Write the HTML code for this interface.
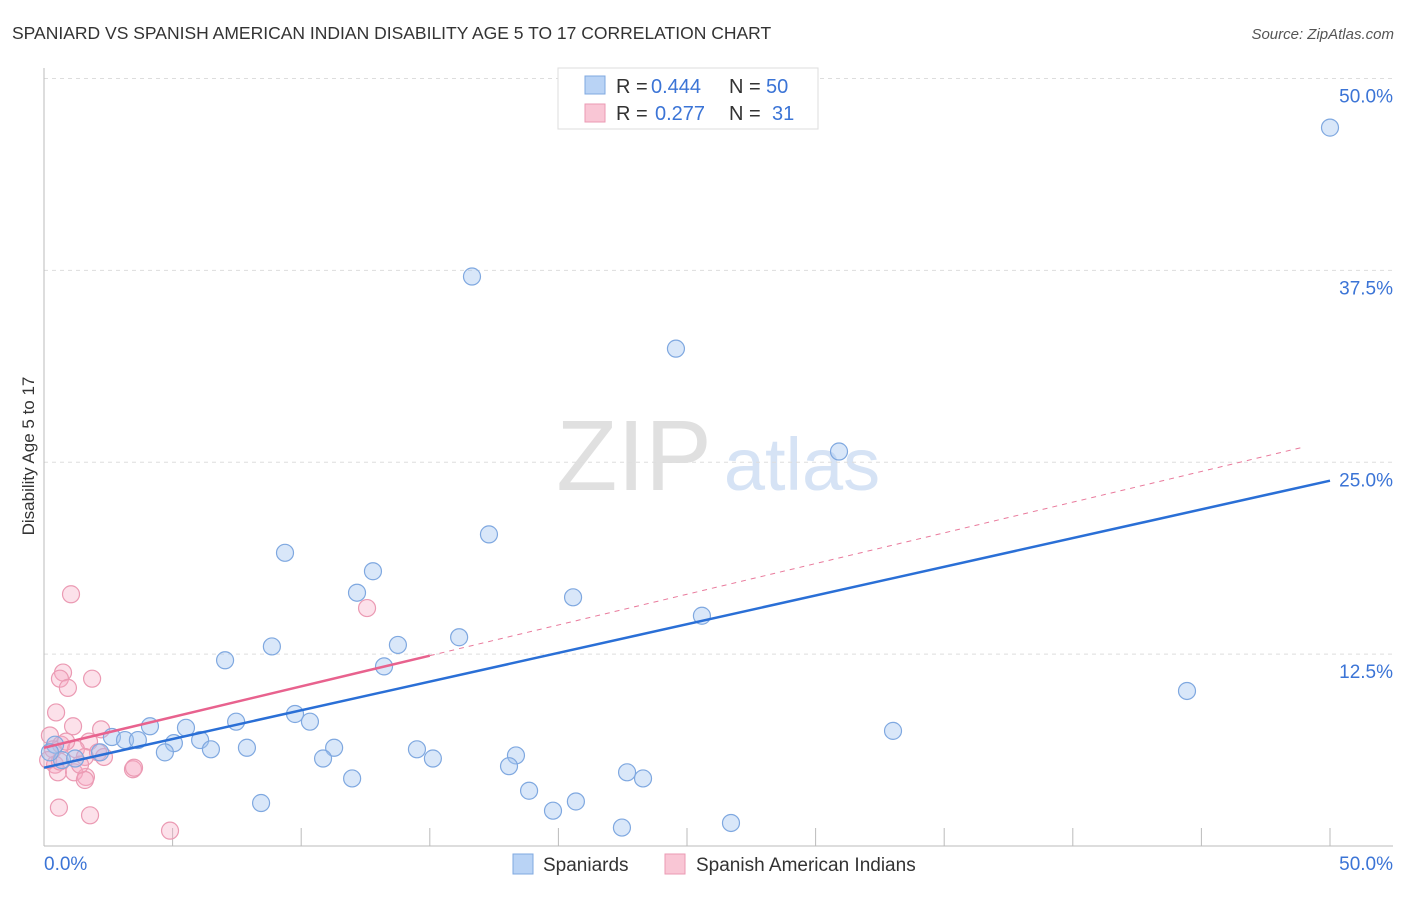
<!DOCTYPE html>
<html><head><meta charset="utf-8"><style>
body{margin:0;background:#fff;font-family:"Liberation Sans",sans-serif}
svg text{font-family:"Liberation Sans",sans-serif}
</style></head><body>
<svg id="c" width="1406" height="892">
<text x="12" y="39" font-size="17.5" fill="#333">SPANIARD VS SPANISH AMERICAN INDIAN DISABILITY AGE 5 TO 17 CORRELATION CHART</text>
<text x="1394" y="39" font-size="15" fill="#555" font-style="italic" text-anchor="end">Source: ZipAtlas.com</text>
<g>
<text x="634" y="490" font-size="100" fill="#e0e0e0" font-family="Liberation Serif" text-anchor="middle">ZIP</text>
<text x="802" y="490" font-size="74" fill="#d6e3f5" text-anchor="middle">atlas</text></g>
<g id="grid"></g><g id="axes"></g><g id="marks"></g>
<text transform="translate(34,456) rotate(-90)" font-size="17" fill="#333" text-anchor="middle">Disability Age 5 to 17</text>
<g>
<rect x="558" y="68" width="260" height="61" fill="#fff" stroke="#ddd"/>
<rect x="585" y="76" width="20" height="18" fill="#b9d3f5" stroke="#7fa8e0"/>
<rect x="585" y="104" width="20" height="18" fill="#f9c6d5" stroke="#eb9ab3"/>
<text x="616" y="93" font-size="20" fill="#333">R =</text>
<text x="651" y="93" font-size="20" fill="#3b74d6">0.444</text>
<text x="729" y="93" font-size="20" fill="#333">N =</text>
<text x="766" y="93" font-size="20" fill="#3b74d6">50</text>
<text x="616" y="120" font-size="20" fill="#333">R =</text>
<text x="655" y="120" font-size="20" fill="#3b74d6">0.277</text>
<text x="729" y="120" font-size="20" fill="#333">N =</text>
<text x="772" y="120" font-size="20" fill="#3b74d6">31</text>
</g>
<g>
<rect x="513" y="854" width="20" height="20" fill="#b9d3f5" stroke="#7fa8e0"/>
<text x="543" y="871" font-size="19" fill="#333">Spaniards</text>
<rect x="665" y="854" width="20" height="20" fill="#f9c6d5" stroke="#eb9ab3"/>
<text x="696" y="871" font-size="19" fill="#333">Spanish American Indians</text>
</g>
</svg>
<script>
const blueX=[50.0,16.64,24.57,30.91,17.30,9.37,12.79,12.17,20.57,25.58,16.14,13.76,8.86,7.04,13.22,44.44,9.76,4.12,7.47,10.34,5.52,33.01,2.64,3.15,3.65,6.07,5.05,2.18,7.89,6.49,11.28,14.50,4.70,10.85,15.12,18.35,18.08,22.67,23.29,11.98,18.86,20.68,8.44,19.79,22.47,26.71,0.43,0.70,1.21,0.23];
const blueY=[46.8,37.1,32.4,25.7,20.3,19.1,17.9,16.5,16.2,15.0,13.6,13.1,13.0,12.1,11.7,10.1,8.6,7.8,8.1,8.1,7.7,7.5,7.1,6.9,6.9,6.9,6.7,6.1,6.4,6.3,6.4,6.3,6.1,5.7,5.7,5.9,5.2,4.8,4.4,4.4,3.6,2.9,2.8,2.3,1.2,1.5,6.6,5.6,5.7,6.1];
const pinkX=[1.05,12.56,0.74,0.62,1.87,0.93,0.47,1.13,2.22,0.23,1.75,0.66,0.35,1.24,2.10,1.59,2.33,0.43,0.54,1.17,1.63,3.46,3.50,1.59,0.58,1.79,4.90,0.16,0.86,0.62,1.40];
const pinkY=[16.4,15.5,11.3,10.9,10.9,10.3,8.7,7.8,7.6,7.2,6.8,6.6,6.3,6.3,6.1,5.8,5.8,5.3,4.8,4.8,4.5,5.0,5.1,4.3,2.5,2.0,1.0,5.6,6.8,5.5,5.3];
const blueTrend=[5.1,23.8];
const pinkTrend=[6.4,0.4];
const yTicks=[12.5,25.0,37.5,50.0];
const xTicks=[0,5,10,15,20,25,30,35,40,45,50];
const NS="http://www.w3.org/2000/svg";
const sx=v=>44+v*25.72, sy=v=>846-v*15.35;
function mk(t,a,p){const e=document.createElementNS(NS,t);for(const k in a)e.setAttribute(k,a[k]);document.getElementById(p).appendChild(e);return e;}
yTicks.forEach(t=>{
 const g=mk('line',{x1:44,x2:1393,y1:sy(t),y2:sy(t),stroke:'#ddd','stroke-dasharray':'4,4'},'grid');
 
 
 const l=mk('text',{x:1393,y:sy(t)+24,'font-size':19,fill:'#3b74d6','text-anchor':'end'},'axes');l.textContent=t.toFixed(1)+'%';
 
 
});
mk('line',{x1:44,x2:44,y1:68,y2:846,stroke:'#bbb'},'axes');
mk('line',{x1:44,x2:1393,y1:846,y2:846,stroke:'#bbb'},'axes');
xTicks.forEach(t=>{const m=mk('line',{x1:sx(t),x2:sx(t),y1:828,y2:846,stroke:'#bbb'},'axes');
 
 });
let a=mk('text',{x:44,y:870,'font-size':19,fill:'#3b74d6'},'axes');a.textContent='0.0%';


a=mk('text',{x:1393,y:870,'font-size':19,fill:'#3b74d6','text-anchor':'end'},'axes');a.textContent='50.0%';


pinkX.forEach((x,i)=>{const c=mk('circle',{cx:sx(x),cy:sy(pinkY[i]),r:8.5,fill:'rgba(246,170,195,0.35)',stroke:'#eb9ab3','stroke-width':1.2},'marks');
 
 });
blueX.forEach((x,i)=>{const c=mk('circle',{cx:sx(x),cy:sy(blueY[i]),r:8.5,fill:'rgba(160,195,240,0.4)',stroke:'#7fa8e0','stroke-width':1.2},'marks');
 
 });
let t=mk('line',{x1:sx(0),y1:sy(blueTrend[0]),x2:sx(50),y2:sy(blueTrend[1]),stroke:'#2a6fd6','stroke-width':2.5},'marks');


t=mk('line',{x1:sx(15),y1:sy(pinkTrend[0]+pinkTrend[1]*15),x2:sx(49),y2:sy(pinkTrend[0]+pinkTrend[1]*49),stroke:'#e97a9c','stroke-width':1,'stroke-dasharray':'5,5'},'marks');


t=mk('line',{x1:sx(0),y1:sy(pinkTrend[0]),x2:sx(15),y2:sy(pinkTrend[0]+pinkTrend[1]*15),stroke:'#e8628e','stroke-width':2.5},'marks');


</script>
</body></html>
